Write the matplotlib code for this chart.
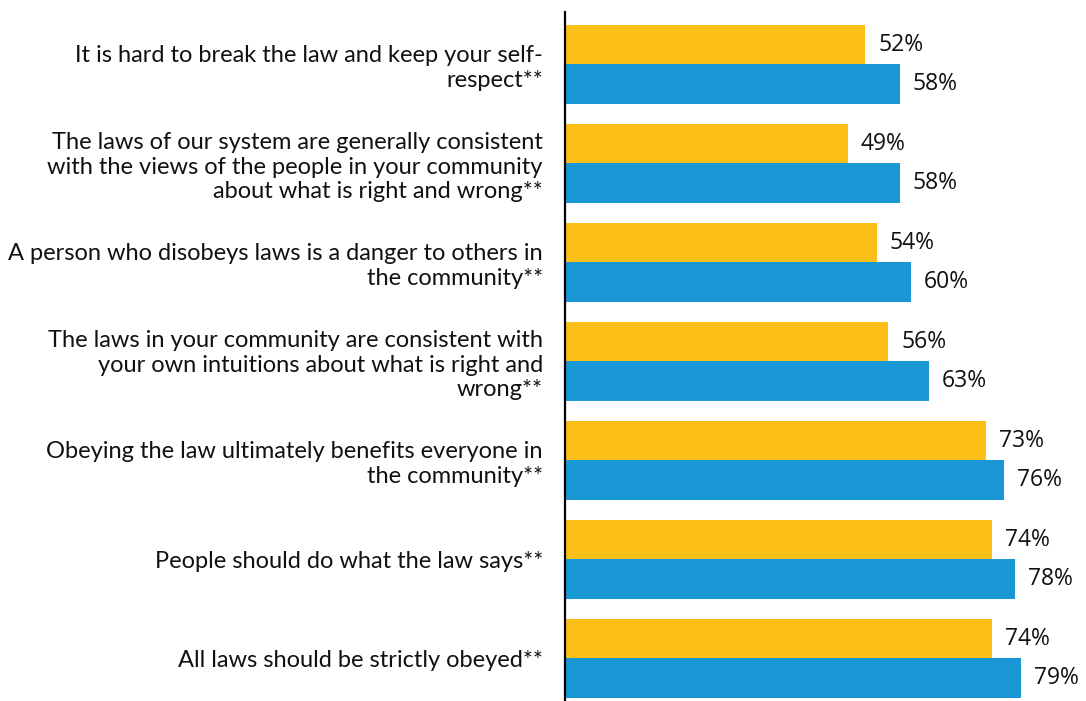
import matplotlib
matplotlib.use("Agg")
import matplotlib.pyplot as plt
import numpy as np
from matplotlib.transforms import offset_copy

categories = [
    "It is hard to break the law and keep your self-\nrespect**",
    "The laws of our system are generally consistent\nwith the views of the people in your community\nabout what is right and wrong**",
    "A person who disobeys laws is a danger to others in\nthe community**",
    "The laws in your community are consistent with\nyour own intuitions about what is right and\nwrong**",
    "Obeying the law ultimately benefits everyone in\nthe community**",
    "People should do what the law says**",
    "All laws should be strictly obeyed**",
]
series_yellow = [52, 49, 54, 56, 73, 74, 74]
series_blue = [58, 58, 60, 63, 76, 78, 79]

YELLOW = "#FCBF17"
BLUE = "#1A98D5"

fig = plt.figure(figsize=(10.86, 7.01), dpi=100)
ax = fig.add_axes([0.5203, 0.0, 0.4797, 0.983])

y = np.arange(len(categories))
h = 0.4
ax.barh(y - h / 2, series_yellow, height=h, color=YELLOW)
ax.barh(y + h / 2, series_blue, height=h, color=BLUE)

ax.set_xlim(0, 90.3)
ax.set_ylim(6.43, -0.53)

for yy, vals in ((y - h / 2, series_yellow), (y + h / 2, series_blue)):
    for yi, v in zip(yy, vals):
        tr = offset_copy(ax.transData, fig=fig, x=13, y=0, units="dots")
        ax.text(v, yi, f"{v}%", transform=tr, ha="left", va="center",
                fontsize=16.5, family=["Open Sans", "DejaVu Sans"], color="#111111")

ax.set_yticks(y)
ax.set_yticklabels(categories, fontsize=17, family=["Lato", "DejaVu Sans"],
                   linespacing=1.2, color="#111111")
ax.tick_params(axis="y", length=0, pad=16)
ax.set_xticks([])

for s in ("top", "right", "bottom"):
    ax.spines[s].set_visible(False)
ax.spines["left"].set_linewidth(1.6)
ax.spines["left"].set_color("black")

fig.savefig("out.png", dpi=100)
